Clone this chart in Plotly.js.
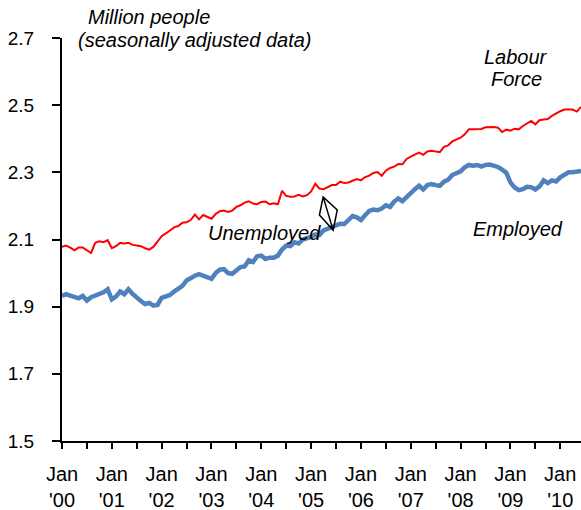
<!DOCTYPE html>
<html><head><meta charset="utf-8">
<script src="https://cdn.plot.ly/plotly-3.0.1.min.js"></script>
<style>html,body{margin:0;padding:0;background:#fff;overflow:hidden}</style>
</head><body><div id="chart" style="width:581px;height:510px"></div>
<script>
// Monthly data, Jan 2000 .. Jun 2010 (million people, seasonally adjusted)
const labourForce = [
  2.078, 2.082, 2.076, 2.068, 2.076, 2.076, 2.068, 2.060, 2.090, 2.095, 2.092, 2.098,
  2.074, 2.080, 2.090, 2.088, 2.090, 2.084, 2.082, 2.080, 2.074, 2.070, 2.078, 2.095,
  2.110, 2.118, 2.126, 2.136, 2.140, 2.150, 2.151, 2.158, 2.174, 2.160, 2.173, 2.167,
  2.162, 2.176, 2.184, 2.186, 2.182, 2.186, 2.197, 2.202, 2.210, 2.214, 2.207, 2.205,
  2.212, 2.213, 2.205, 2.208, 2.205, 2.245, 2.230, 2.227, 2.228, 2.233, 2.228, 2.232,
  2.243, 2.266, 2.252, 2.250, 2.256, 2.262, 2.262, 2.272, 2.268, 2.270, 2.275, 2.280,
  2.276, 2.286, 2.290, 2.298, 2.301, 2.290, 2.305, 2.313, 2.317, 2.325, 2.324, 2.340,
  2.347, 2.352, 2.359, 2.352, 2.362, 2.364, 2.362, 2.360, 2.376, 2.380, 2.392, 2.397,
  2.403, 2.413, 2.428, 2.428, 2.428, 2.429, 2.434, 2.435, 2.435, 2.433, 2.420, 2.427,
  2.424, 2.430, 2.428, 2.438, 2.445, 2.453, 2.443, 2.455, 2.457, 2.459, 2.468, 2.476,
  2.482, 2.487, 2.487, 2.487, 2.481, 2.495
];
const employed = [
  1.932, 1.937, 1.933, 1.928, 1.925, 1.932, 1.918, 1.928, 1.933, 1.939, 1.943, 1.952,
  1.922, 1.930, 1.945, 1.937, 1.952, 1.938, 1.926, 1.917, 1.908, 1.911, 1.903, 1.905,
  1.926, 1.930, 1.935, 1.945, 1.952, 1.962, 1.978, 1.987, 1.992, 1.997, 1.992, 1.990,
  1.983, 2.000, 2.010, 2.012, 2.000, 1.998, 2.010, 2.018, 2.020, 2.038, 2.033, 2.050,
  2.052, 2.042, 2.046, 2.046, 2.052, 2.070, 2.082, 2.080, 2.092, 2.088, 2.100, 2.103,
  2.108, 2.115, 2.114, 2.127, 2.132, 2.135, 2.140, 2.147, 2.146, 2.160, 2.170, 2.166,
  2.158, 2.172, 2.185, 2.189, 2.187, 2.192, 2.202, 2.197, 2.213, 2.222, 2.214, 2.226,
  2.240, 2.250, 2.260, 2.249, 2.262, 2.265, 2.262, 2.260, 2.272, 2.278, 2.292, 2.298,
  2.303, 2.315, 2.322, 2.320, 2.322, 2.317, 2.322, 2.323, 2.321, 2.316, 2.308, 2.299,
  2.270, 2.255, 2.247, 2.250, 2.257, 2.256, 2.249, 2.258, 2.276, 2.268, 2.276, 2.273,
  2.285, 2.292, 2.300, 2.300, 2.301, 2.304
];
const yearLabels = ["'00","'01","'02","'03","'04","'05","'06","'07","'08","'09","'10"];
const yTicks = [1.5, 1.7, 1.9, 2.1, 2.3, 2.5, 2.7];
// double arrow between the series (month index, value): top, left wing, bottom, right wing
const gapArrowX = [62.9, 62.0, 65.3, 66.3];
const gapArrowY = [2.227, 2.173, 2.128, 2.188];

const months = labourForce.map((_, i) => i);
const tickVals = [], tickText = [];
for (let m = 0; m <= 120; m += 6) {
  tickVals.push(m);
  tickText.push(m % 12 === 0 ? 'Jan<br>' + yearLabels[m / 12] : '');
}

const FONT = 'Liberation Sans, Arial, sans-serif';
const L = 62, T = 38, W = 519, H = 403;
const px = x => (x - L) / W;
const py = y => (T + H - y) / H;

function note(text, x, y, xanchor) {
  return {text: '<i>' + text + '</i>', xref: 'paper', yref: 'paper', x: px(x), y: py(y),
          xanchor: xanchor, yanchor: 'middle', showarrow: false,
          font: {family: FONT, size: 20, color: '#000'}};
}

const traces = [
  {x: months, y: employed, type: 'scatter', mode: 'lines', name: 'Employed',
   line: {color: '#4F81BD', width: 4.5}, hoverinfo: 'skip'},
  {x: months, y: labourForce, type: 'scatter', mode: 'lines', name: 'Labour Force',
   line: {color: '#FF0000', width: 2}, hoverinfo: 'skip'}
];

const ax = gapArrowX, ay = gapArrowY;
const arrowPath = `M${ax[0]},${ay[0]} L${ax[1]},${ay[1]} L${ax[2]},${ay[2]} L${ax[3]},${ay[3]} Z M${ax[0]},${ay[0]} L${ax[2]},${ay[2]}`;

const layout = {
  width: 581, height: 510,
  margin: {l: L, r: 0, t: T, b: 510 - T - H},
  paper_bgcolor: '#fff', plot_bgcolor: '#fff',
  showlegend: false,
  font: {family: FONT, color: '#000'},
  xaxis: {
    range: [0, 125], showgrid: false, zeroline: false,
    showline: true, linecolor: '#000', linewidth: 2,
    ticks: 'outside', ticklen: 6, tickwidth: 2, tickcolor: '#000',
    tickmode: 'array', tickvals: tickVals, ticktext: tickText,
    tickfont: {family: FONT, size: 20, color: '#000'}, ticklabelstandoff: 8
  },
  yaxis: {
    range: [1.5, 2.7], showgrid: false, zeroline: false,
    showline: true, linecolor: '#000', linewidth: 2,
    ticks: 'outside', ticklen: 8, tickwidth: 2, tickcolor: '#000',
    tickmode: 'array', tickvals: yTicks, ticktext: yTicks.map(v => v.toFixed(1)),
    tickfont: {family: FONT, size: 19, color: '#000'}, ticklabelstandoff: 14
  },
  shapes: [{type: 'path', xref: 'x', yref: 'y', path: arrowPath,
            line: {color: '#000', width: 1.5}}],
  annotations: [
    note('Million people', 86, 17, 'left'),
    note('(seasonally adjusted data)', 76, 40, 'left'),
    note('Labour', 516, 57, 'center'),
    note('Force', 516, 79, 'center'),
    note('Unemployed', 264, 233, 'center'),
    note('Employed', 518, 229, 'center')
  ]
};

Plotly.newPlot('chart', traces, layout, {staticPlot: true, displayModeBar: false});
</script>
</body></html>
